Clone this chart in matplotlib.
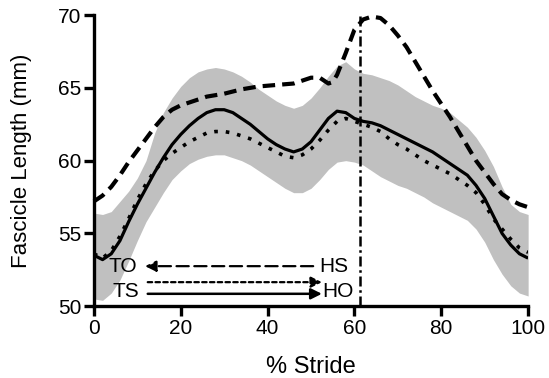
import numpy as np
import matplotlib
matplotlib.use('Agg')
import matplotlib.pyplot as plt

plt.rcParams['font.family'] = ['Liberation Sans', 'DejaVu Sans']

# % stride grid
stride = [0, 2, 4, 6, 8, 10, 12, 14, 16, 18, 20, 22, 24, 26, 28, 30, 32, 34, 36, 38,
          40, 42, 44, 46, 48, 50, 52, 54, 56, 58, 60, 62, 64, 66, 68, 70, 72, 74, 76, 78,
          80, 82, 84, 86, 88, 90, 92, 94, 96, 98, 100]

# mean (solid)
mean_len = [53.5, 53.2, 53.6, 54.5, 55.8, 57.0, 58.1, 59.2, 60.2, 61.1, 61.8, 62.4, 62.9, 63.3,
            63.5, 63.5, 63.3, 62.9, 62.5, 62.0, 61.5, 61.1, 60.8, 60.6, 60.8, 61.3, 62.1, 62.9,
            63.4, 63.3, 62.9, 62.7, 62.6, 62.4, 62.1, 61.8, 61.5, 61.2, 60.9, 60.6, 60.2, 59.8,
            59.4, 59.0, 58.3, 57.4, 56.2, 55.0, 54.2, 53.6, 53.3]
# dotted
dotted_len = [53.6, 53.3, 53.8, 54.8, 56.0, 57.3, 58.4, 59.3, 60.0, 60.5, 60.9, 61.3, 61.6, 61.9,
              62.0, 62.0, 61.9, 61.7, 61.5, 61.2, 60.9, 60.6, 60.3, 60.2, 60.4, 60.8, 61.4, 62.1,
              62.7, 62.9, 62.7, 62.5, 62.3, 62.0, 61.5, 61.1, 60.8, 60.4, 60.0, 59.7, 59.4, 59.1,
              58.7, 58.3, 57.8, 57.0, 56.0, 55.3, 54.6, 54.0, 53.7]
# sd band
upper = [56.4, 56.3, 56.5, 57.2, 57.9, 58.8, 60.0, 61.9, 63.3, 64.3, 65.1, 65.7, 66.1, 66.3,
         66.4, 66.3, 66.1, 65.8, 65.4, 64.9, 64.5, 64.1, 63.8, 63.6, 63.8, 64.3, 65.0, 65.8,
         66.5, 66.8, 66.3, 66.0, 65.9, 65.7, 65.5, 65.2, 64.8, 64.4, 64.1, 63.8, 63.6, 63.3,
         62.8, 62.3, 61.6, 60.7, 59.6, 58.2, 57.0, 56.5, 56.3]
lower = [50.5, 50.4, 50.9, 51.8, 53.1, 54.5, 55.8, 56.8, 57.8, 58.7, 59.3, 59.8, 60.1, 60.3,
         60.4, 60.4, 60.2, 60.0, 59.7, 59.3, 58.9, 58.5, 58.1, 57.8, 57.8, 58.1, 58.7, 59.4,
         59.9, 60.0, 59.9, 59.7, 59.3, 58.9, 58.6, 58.3, 58.1, 57.8, 57.5, 57.1, 56.8, 56.5,
         56.2, 55.9, 55.3, 54.4, 53.2, 52.2, 51.4, 50.9, 50.7]

# dashed
dash_x = [0, 2, 4, 6, 8, 10, 12, 14, 16, 18, 20, 22, 24, 26, 28, 30, 34, 38, 42, 46, 48, 50,
          52, 54, 55, 56, 58, 60, 62, 64, 66, 68, 70, 72, 74, 76, 78, 80, 82, 84, 86, 88, 90,
          92, 94, 96, 98, 100]
dash_len = [57.2, 57.6, 58.2, 59.0, 59.9, 60.7, 61.5, 62.3, 63.0, 63.5, 63.8, 64.0, 64.2, 64.4,
            64.5, 64.6, 64.9, 65.1, 65.2, 65.3, 65.5, 65.7, 65.7, 65.3, 65.4, 65.9, 67.4, 69.0,
            69.7, 69.9, 69.8, 69.3, 68.6, 67.8, 66.8, 65.8, 64.8, 63.9, 63.0, 62.0, 61.0, 60.0,
            59.2, 58.4, 57.7, 57.3, 57.0, 56.8]

event_x = 61.3

fig = plt.figure(figsize=(5.49, 3.78), dpi=100)
ax = fig.add_axes([0.171, 0.19, 0.791, 0.77])

ax.fill_between(stride, lower, upper, color='#c0c0c0', lw=0)
ax.plot(stride, mean_len, color='black', lw=2.3, solid_capstyle='butt')
ax.plot(stride, dotted_len, color='black', lw=2.6, linestyle=(0, (1, 2.2)))
ax.plot(dash_x, dash_len, color='black', lw=3.0, linestyle=(0, (3.0, 1.7)), clip_on=False)
ax.plot([event_x, event_x], [50, 70], color='black', lw=1.8, linestyle=(0, (4, 1.5, 1, 1.5)))

# stance/swing arrows
ax.annotate('', xy=(11.8, 52.75), xytext=(50.5, 52.75),
            arrowprops=dict(arrowstyle='-|>', color='black', lw=1.6, linestyle=(0, (5.5, 2.5)),
                            mutation_scale=16, shrinkA=0, shrinkB=0))
ax.annotate('', xy=(52.5, 51.65), xytext=(12.4, 51.65),
            arrowprops=dict(arrowstyle='-|>', color='black', lw=1.6, linestyle=(0, (2, 1.5)),
                            mutation_scale=16, shrinkA=0, shrinkB=0))
ax.annotate('', xy=(52.5, 50.85), xytext=(12.4, 50.85),
            arrowprops=dict(arrowstyle='-|>', color='black', lw=1.8,
                            mutation_scale=16, shrinkA=0, shrinkB=0))
ax.text(10.0, 52.75, 'TO', fontsize=15, ha='right', va='center')
ax.text(52.0, 52.75, 'HS', fontsize=15, ha='left', va='center')
ax.text(10.4, 51.0, 'TS', fontsize=15, ha='right', va='center')
ax.text(52.6, 51.0, 'HO', fontsize=15, ha='left', va='center')

ax.set_xlim(0, 100)
ax.set_ylim(50, 70)
ax.set_xticks([0, 20, 40, 60, 80, 100])
ax.set_yticks([50, 55, 60, 65, 70])
for s in ['top', 'right']:
    ax.spines[s].set_visible(False)
for s in ['left', 'bottom']:
    ax.spines[s].set_linewidth(2.4)
ax.tick_params(width=2.4, length=7, labelsize=15, pad=2)
ax.set_xlabel('% Stride', fontsize=17, labelpad=13)
ax.set_ylabel('Fascicle Length (mm)', fontsize=16, labelpad=19)

fig.savefig('out.png', dpi=100)
